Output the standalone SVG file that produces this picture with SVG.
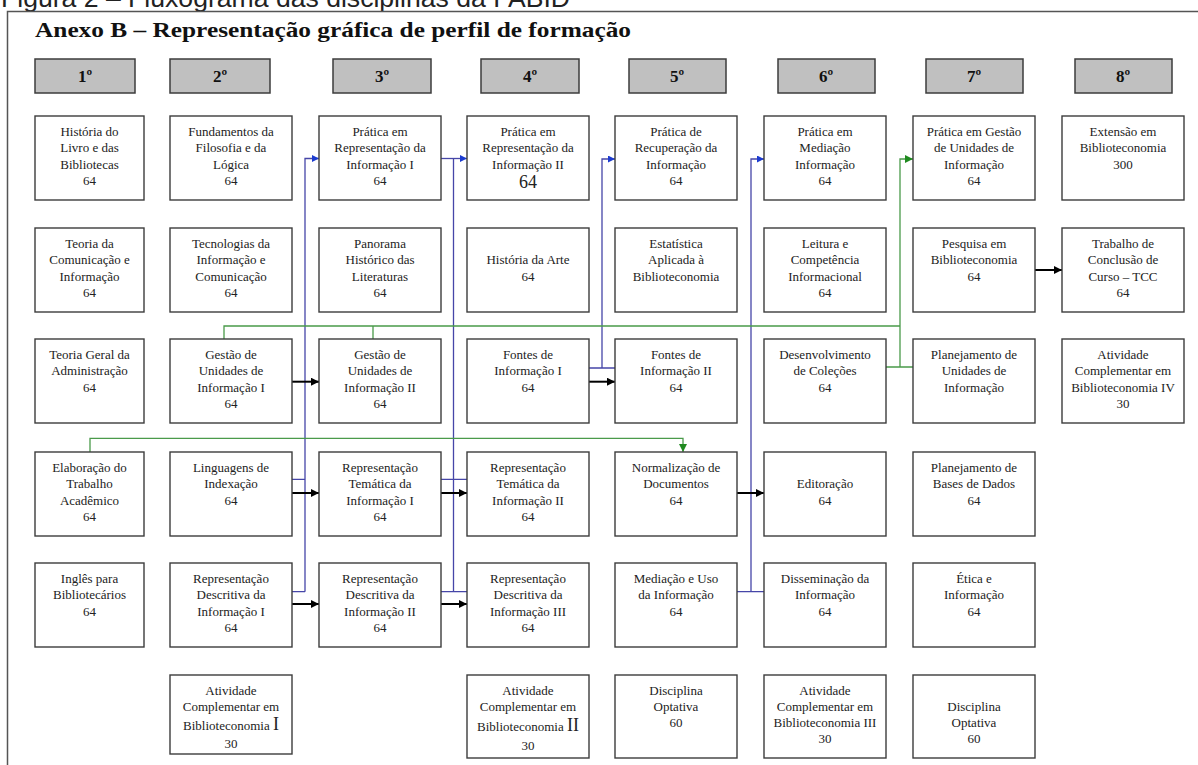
<svg xmlns="http://www.w3.org/2000/svg" width="1198" height="765" viewBox="0 0 1198 765">
<style>
.box{fill:#fff;stroke:#3c3c3c;stroke-width:1.4}
.hd{fill:#c0c0c0;stroke:#3c3c3c;stroke-width:1.5}
.t{font-family:"Liberation Serif","Times New Roman",serif;font-size:13px;fill:#222;text-anchor:middle}
.h{font-family:"Liberation Serif","Times New Roman",serif;font-size:17px;font-weight:bold;fill:#111;text-anchor:middle}
.big{font-size:18px}
.bigi{font-size:18px}
.blue{fill:none;stroke:#4646a8;stroke-width:1.3}
.green{fill:none;stroke:#4a9a4a;stroke-width:1.3}
.black{fill:none;stroke:#000;stroke-width:2}
</style>
<defs>
<marker id="ak" markerUnits="userSpaceOnUse" markerWidth="9" markerHeight="8" viewBox="0 0 10 10" refX="10" refY="5" orient="auto"><path d="M0,0L10,5L0,10z" fill="#000"/></marker>
<marker id="ab" markerUnits="userSpaceOnUse" markerWidth="8" markerHeight="7" viewBox="0 0 10 10" refX="10" refY="5" orient="auto"><path d="M0,0L10,5L0,10z" fill="#1c3cd0"/></marker>
<marker id="ag" markerUnits="userSpaceOnUse" markerWidth="8" markerHeight="8" viewBox="0 0 10 10" refX="10" refY="5" orient="auto"><path d="M0,0L10,5L0,10z" fill="#1f8a1f"/></marker>
</defs>
<rect width="1198" height="765" fill="#fff"/>
<text x="1" y="7" font-family="Liberation Sans, Arial, sans-serif" font-size="26" fill="#222" textLength="569" lengthAdjust="spacingAndGlyphs">Figura 2 – Fluxograma das disciplinas da FABID</text>
<path d="M7.5,765V11.5H1198" fill="none" stroke="#555" stroke-width="1.5"/>
<text x="35" y="37" font-family="Liberation Serif, Times New Roman, serif" font-size="21" font-weight="bold" fill="#111" textLength="596" lengthAdjust="spacingAndGlyphs">Anexo B – Representação gráfica de perfil de formação</text>

<g id="headers">
<g id="s1"><rect class="hd" x="35" y="59" width="100" height="34"/><text class="h" x="85" y="82">1º</text></g>
<g id="s2"><rect class="hd" x="170" y="59" width="100" height="34"/><text class="h" x="220" y="82">2º</text></g>
<g id="s3"><rect class="hd" x="333" y="59" width="98" height="34"/><text class="h" x="382" y="82">3º</text></g>
<g id="s4"><rect class="hd" x="481" y="59" width="98" height="34"/><text class="h" x="530" y="82">4º</text></g>
<g id="s5"><rect class="hd" x="629" y="59" width="97" height="34"/><text class="h" x="677" y="82">5º</text></g>
<g id="s6"><rect class="hd" x="778" y="59" width="97" height="34"/><text class="h" x="826" y="82">6º</text></g>
<g id="s7"><rect class="hd" x="926" y="59" width="97" height="34"/><text class="h" x="974" y="82">7º</text></g>
<g id="s8"><rect class="hd" x="1075" y="59" width="97" height="34"/><text class="h" x="1123" y="82">8º</text></g>
</g>

<g id="connectors">
<path class="blue" d="M292,479.3H305M292,591.7H305M305,591.7V158.5H319" marker-end="url(#ab)"/>
<path class="blue" d="M441,479.3H467M441,591.7H467M453.5,591.7V158.5"/>
<path class="blue" d="M441,158.5H467" marker-end="url(#ab)"/>
<path class="blue" d="M589,368H615M602,368V159H615" marker-end="url(#ab)"/>
<path class="blue" d="M737,591.7H764M751,591.7V159H764" marker-end="url(#ab)"/>
<path class="green" d="M224,339V326H900M373,339V326M886,367H913"/>
<path class="green" d="M900,367V159H913" marker-end="url(#ag)"/>
<path class="green" d="M90,452V438.3H683V452" marker-end="url(#ag)"/>
<path class="black" d="M292,381.7H319" marker-end="url(#ak)"/>
<path class="black" d="M589,381.7H615" marker-end="url(#ak)"/>
<path class="black" d="M292,493H319" marker-end="url(#ak)"/>
<path class="black" d="M441,493H467" marker-end="url(#ak)"/>
<path class="black" d="M737,493H764" marker-end="url(#ak)"/>
<path class="black" d="M292,604H319" marker-end="url(#ak)"/>
<path class="black" d="M441,604H467" marker-end="url(#ak)"/>
<path class="black" d="M1035,270H1062" marker-end="url(#ak)"/>
</g>

<g id="n11"><rect class="box" x="35" y="116" width="109" height="84"/><text class="t"><tspan x="89.5" y="135.5">História do</tspan><tspan x="89.5" y="152">Livro e das</tspan><tspan x="89.5" y="168.5">Bibliotecas</tspan><tspan x="89.5" y="185">64</tspan></text></g>
<g id="n21"><rect class="box" x="170" y="116" width="122" height="84"/><text class="t"><tspan x="231" y="135.5">Fundamentos da</tspan><tspan x="231" y="152">Filosofia e da</tspan><tspan x="231" y="168.5">Lógica</tspan><tspan x="231" y="185">64</tspan></text></g>
<g id="n31"><rect class="box" x="319" y="116" width="122" height="84"/><text class="t"><tspan x="380" y="135.5">Prática em</tspan><tspan x="380" y="152">Representação da</tspan><tspan x="380" y="168.5">Informação I</tspan><tspan x="380" y="185">64</tspan></text></g>
<g id="n41"><rect class="box" x="467" y="116" width="122" height="84"/><text class="t"><tspan x="528" y="135.5">Prática em</tspan><tspan x="528" y="152">Representação da</tspan><tspan x="528" y="168.5">Informação II</tspan><tspan class="big" x="528" y="188">64</tspan></text></g>
<g id="n51"><rect class="box" x="615" y="116" width="122" height="84"/><text class="t"><tspan x="676" y="135.5">Prática de</tspan><tspan x="676" y="152">Recuperação da</tspan><tspan x="676" y="168.5">Informação</tspan><tspan x="676" y="185">64</tspan></text></g>
<g id="n61"><rect class="box" x="764" y="116" width="122" height="84"/><text class="t"><tspan x="825" y="135.5">Prática em</tspan><tspan x="825" y="152">Mediação</tspan><tspan x="825" y="168.5">Informação</tspan><tspan x="825" y="185">64</tspan></text></g>
<g id="n71"><rect class="box" x="913" y="116" width="122" height="84"/><text class="t"><tspan x="974" y="135.5">Prática em Gestão</tspan><tspan x="974" y="152">de Unidades de</tspan><tspan x="974" y="168.5">Informação</tspan><tspan x="974" y="185">64</tspan></text></g>
<g id="n81"><rect class="box" x="1062" y="116" width="122" height="84"/><text class="t"><tspan x="1123" y="135.5">Extensão em</tspan><tspan x="1123" y="152">Biblioteconomia</tspan><tspan x="1123" y="168.5">300</tspan></text></g>

<g id="n12"><rect class="box" x="35" y="228" width="109" height="84"/><text class="t"><tspan x="89.5" y="247.5">Teoria da</tspan><tspan x="89.5" y="264">Comunicação e</tspan><tspan x="89.5" y="280.5">Informação</tspan><tspan x="89.5" y="297">64</tspan></text></g>
<g id="n22"><rect class="box" x="170" y="228" width="122" height="84"/><text class="t"><tspan x="231" y="247.5">Tecnologias da</tspan><tspan x="231" y="264">Informação e</tspan><tspan x="231" y="280.5">Comunicação</tspan><tspan x="231" y="297">64</tspan></text></g>
<g id="n32"><rect class="box" x="319" y="228" width="122" height="84"/><text class="t"><tspan x="380" y="247.5">Panorama</tspan><tspan x="380" y="264">Histórico das</tspan><tspan x="380" y="280.5">Literaturas</tspan><tspan x="380" y="297">64</tspan></text></g>
<g id="n42"><rect class="box" x="467" y="228" width="122" height="84"/><text class="t"><tspan x="528" y="264">História da Arte</tspan><tspan x="528" y="280.5">64</tspan></text></g>
<g id="n52"><rect class="box" x="615" y="228" width="122" height="84"/><text class="t"><tspan x="676" y="247.5">Estatística</tspan><tspan x="676" y="264">Aplicada à</tspan><tspan x="676" y="280.5">Biblioteconomia</tspan></text></g>
<g id="n62"><rect class="box" x="764" y="228" width="122" height="84"/><text class="t"><tspan x="825" y="247.5">Leitura e</tspan><tspan x="825" y="264">Competência</tspan><tspan x="825" y="280.5">Informacional</tspan><tspan x="825" y="297">64</tspan></text></g>
<g id="n72"><rect class="box" x="913" y="228" width="122" height="84"/><text class="t"><tspan x="974" y="247.5">Pesquisa em</tspan><tspan x="974" y="264">Biblioteconomia</tspan><tspan x="974" y="280.5">64</tspan></text></g>
<g id="n82"><rect class="box" x="1062" y="228" width="122" height="84"/><text class="t"><tspan x="1123" y="247.5">Trabalho de</tspan><tspan x="1123" y="264">Conclusão de</tspan><tspan x="1123" y="280.5">Curso – TCC</tspan><tspan x="1123" y="297">64</tspan></text></g>

<g id="n13"><rect class="box" x="35" y="339" width="109" height="84"/><text class="t"><tspan x="89.5" y="358.5">Teoria Geral da</tspan><tspan x="89.5" y="375">Administração</tspan><tspan x="89.5" y="391.5">64</tspan></text></g>
<g id="n23"><rect class="box" x="170" y="339" width="122" height="84"/><text class="t"><tspan x="231" y="358.5">Gestão de</tspan><tspan x="231" y="375">Unidades de</tspan><tspan x="231" y="391.5">Informação I</tspan><tspan x="231" y="408">64</tspan></text></g>
<g id="n33"><rect class="box" x="319" y="339" width="122" height="84"/><text class="t"><tspan x="380" y="358.5">Gestão de</tspan><tspan x="380" y="375">Unidades de</tspan><tspan x="380" y="391.5">Informação II</tspan><tspan x="380" y="408">64</tspan></text></g>
<g id="n43"><rect class="box" x="467" y="339" width="122" height="84"/><text class="t"><tspan x="528" y="358.5">Fontes de</tspan><tspan x="528" y="375">Informação I</tspan><tspan x="528" y="391.5">64</tspan></text></g>
<g id="n53"><rect class="box" x="615" y="339" width="122" height="84"/><text class="t"><tspan x="676" y="358.5">Fontes de</tspan><tspan x="676" y="375">Informação II</tspan><tspan x="676" y="391.5">64</tspan></text></g>
<g id="n63"><rect class="box" x="764" y="339" width="122" height="84"/><text class="t"><tspan x="825" y="358.5">Desenvolvimento</tspan><tspan x="825" y="375">de Coleções</tspan><tspan x="825" y="391.5">64</tspan></text></g>
<g id="n73"><rect class="box" x="913" y="339" width="122" height="84"/><text class="t"><tspan x="974" y="358.5">Planejamento de</tspan><tspan x="974" y="375">Unidades de</tspan><tspan x="974" y="391.5">Informação</tspan></text></g>
<g id="n83"><rect class="box" x="1062" y="339" width="122" height="84"/><text class="t"><tspan x="1123" y="358.5">Atividade</tspan><tspan x="1123" y="375">Complementar em</tspan><tspan x="1123" y="391.5">Biblioteconomia IV</tspan><tspan x="1123" y="408">30</tspan></text></g>

<g id="n14"><rect class="box" x="35" y="452" width="109" height="84"/><text class="t"><tspan x="89.5" y="471.5">Elaboração do</tspan><tspan x="89.5" y="488">Trabalho</tspan><tspan x="89.5" y="504.5">Acadêmico</tspan><tspan x="89.5" y="521">64</tspan></text></g>
<g id="n24"><rect class="box" x="170" y="452" width="122" height="84"/><text class="t"><tspan x="231" y="471.5">Linguagens de</tspan><tspan x="231" y="488">Indexação</tspan><tspan x="231" y="504.5">64</tspan></text></g>
<g id="n34"><rect class="box" x="319" y="452" width="122" height="84"/><text class="t"><tspan x="380" y="471.5">Representação</tspan><tspan x="380" y="488">Temática da</tspan><tspan x="380" y="504.5">Informação I</tspan><tspan x="380" y="521">64</tspan></text></g>
<g id="n44"><rect class="box" x="467" y="452" width="122" height="84"/><text class="t"><tspan x="528" y="471.5">Representação</tspan><tspan x="528" y="488">Temática da</tspan><tspan x="528" y="504.5">Informação II</tspan><tspan x="528" y="521">64</tspan></text></g>
<g id="n54"><rect class="box" x="615" y="452" width="122" height="84"/><text class="t"><tspan x="676" y="471.5">Normalização de</tspan><tspan x="676" y="488">Documentos</tspan><tspan x="676" y="504.5">64</tspan></text></g>
<g id="n64"><rect class="box" x="764" y="452" width="122" height="84"/><text class="t"><tspan x="825" y="488">Editoração</tspan><tspan x="825" y="504.5">64</tspan></text></g>
<g id="n74"><rect class="box" x="913" y="452" width="122" height="84"/><text class="t"><tspan x="974" y="471.5">Planejamento de</tspan><tspan x="974" y="488">Bases de Dados</tspan><tspan x="974" y="504.5">64</tspan></text></g>

<g id="n15"><rect class="box" x="35" y="563" width="109" height="84"/><text class="t"><tspan x="89.5" y="582.5">Inglês para</tspan><tspan x="89.5" y="599">Bibliotecários</tspan><tspan x="89.5" y="615.5">64</tspan></text></g>
<g id="n25"><rect class="box" x="170" y="563" width="122" height="84"/><text class="t"><tspan x="231" y="582.5">Representação</tspan><tspan x="231" y="599">Descritiva da</tspan><tspan x="231" y="615.5">Informação I</tspan><tspan x="231" y="632">64</tspan></text></g>
<g id="n35"><rect class="box" x="319" y="563" width="122" height="84"/><text class="t"><tspan x="380" y="582.5">Representação</tspan><tspan x="380" y="599">Descritiva da</tspan><tspan x="380" y="615.5">Informação II</tspan><tspan x="380" y="632">64</tspan></text></g>
<g id="n45"><rect class="box" x="467" y="563" width="122" height="84"/><text class="t"><tspan x="528" y="582.5">Representação</tspan><tspan x="528" y="599">Descritiva da</tspan><tspan x="528" y="615.5">Informação III</tspan><tspan x="528" y="632">64</tspan></text></g>
<g id="n55"><rect class="box" x="615" y="563" width="122" height="84"/><text class="t"><tspan x="676" y="582.5">Mediação e Uso</tspan><tspan x="676" y="599">da Informação</tspan><tspan x="676" y="615.5">64</tspan></text></g>
<g id="n65"><rect class="box" x="764" y="563" width="122" height="84"/><text class="t"><tspan x="825" y="582.5">Disseminação da</tspan><tspan x="825" y="599">Informação</tspan><tspan x="825" y="615.5">64</tspan></text></g>
<g id="n75"><rect class="box" x="913" y="563" width="122" height="84"/><text class="t"><tspan x="974" y="582.5">Ética e</tspan><tspan x="974" y="599">Informação</tspan><tspan x="974" y="615.5">64</tspan></text></g>

<g id="n26"><rect class="box" x="170" y="675" width="122" height="79"/><text class="t"><tspan x="231" y="694.5">Atividade</tspan><tspan x="231" y="710.5">Complementar em</tspan><tspan x="231" y="729.5">Biblioteconomia <tspan class="bigi">I</tspan></tspan><tspan x="231" y="748">30</tspan></text></g>
<g id="n46"><rect class="box" x="467" y="675" width="122" height="83"/><text class="t"><tspan x="528" y="694.5">Atividade</tspan><tspan x="528" y="711">Complementar em</tspan><tspan x="528" y="731">Biblioteconomia <tspan class="bigi">II</tspan></tspan><tspan x="528" y="749.5">30</tspan></text></g>
<g id="n56"><rect class="box" x="615" y="675" width="122" height="83"/><text class="t"><tspan x="676" y="694.5">Disciplina</tspan><tspan x="676" y="711">Optativa</tspan><tspan x="676" y="727">60</tspan></text></g>
<g id="n66"><rect class="box" x="764" y="675" width="122" height="83"/><text class="t"><tspan x="825" y="694.5">Atividade</tspan><tspan x="825" y="710.5">Complementar em</tspan><tspan x="825" y="726.5">Biblioteconomia III</tspan><tspan x="825" y="742.5">30</tspan></text></g>
<g id="n76"><rect class="box" x="913" y="675" width="122" height="83"/><text class="t"><tspan x="974" y="711">Disciplina</tspan><tspan x="974" y="726.5">Optativa</tspan><tspan x="974" y="742.5">60</tspan></text></g>
</svg>
